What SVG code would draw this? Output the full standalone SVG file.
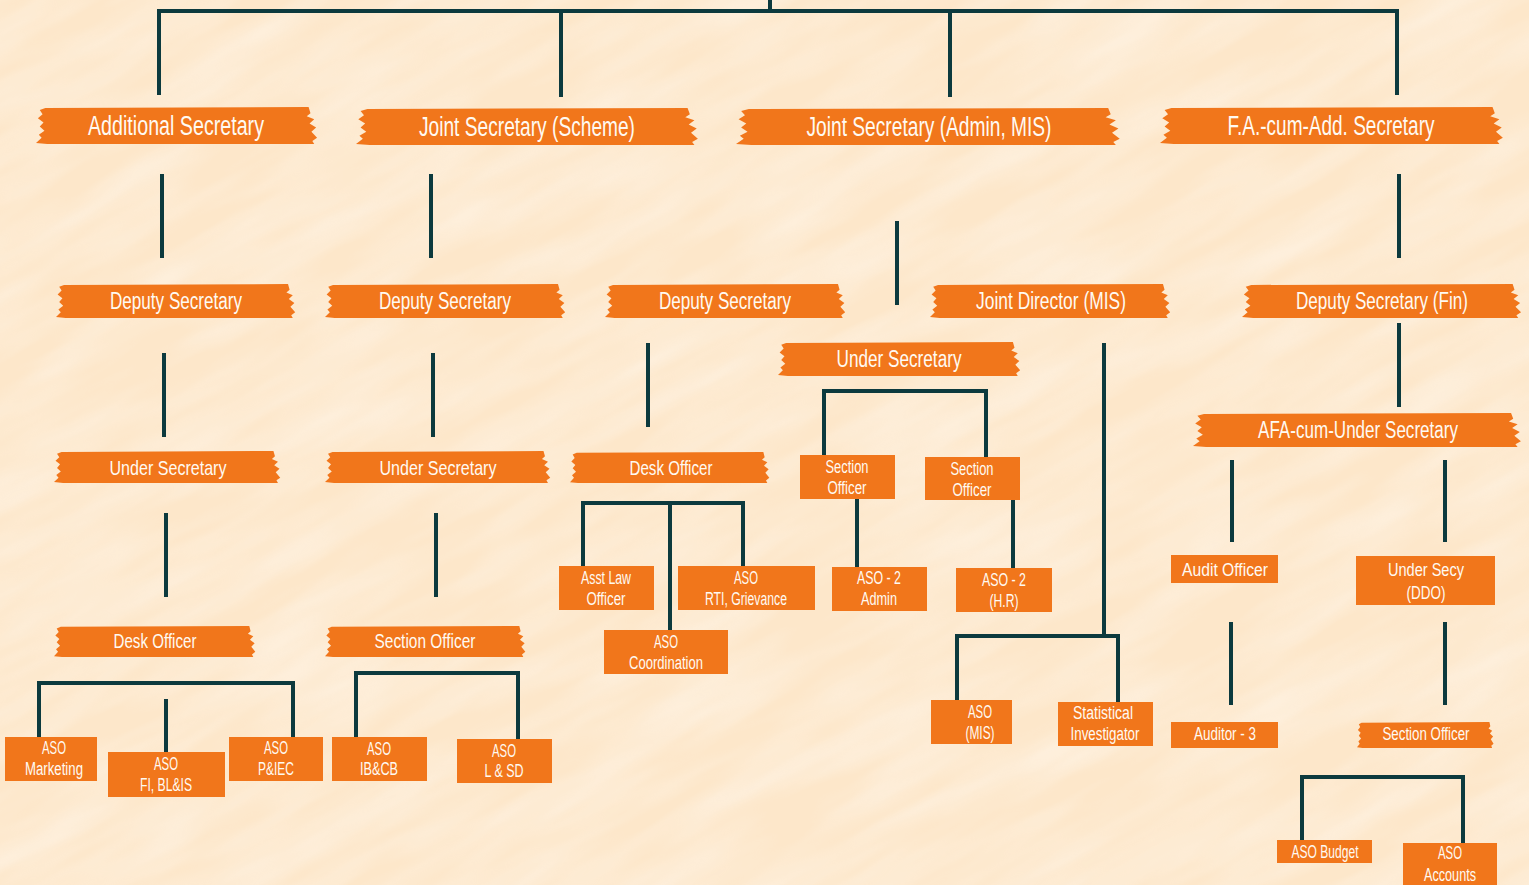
<svg xmlns="http://www.w3.org/2000/svg" xmlns:xlink="http://www.w3.org/1999/xlink" width="1529" height="885" viewBox="0 0 1529 885">
<style>
.ln{fill:none;stroke:#0c3a3e;stroke-width:4;stroke-linecap:butt;stroke-linejoin:miter}
.bx{fill:#f1761b}
text{font-family:"Liberation Sans","Noto Sans",Arial,sans-serif;fill:#fffaf2;text-anchor:middle}
.t1{font-size:27px}
.t2{font-size:23px}
.t3{font-size:21px}
.t4{font-size:18px}
</style>
<defs>
<symbol id="brush" viewBox="0 0 300 36" preserveAspectRatio="none">
<path d="M10,1 L290,0 L292,6 L288,9 L296,12 L291,16 L298,20 L293,24 L299,30 L294,33 L296,36 L12,36 L0,35 L6,30 L3,27 L9,23 L4,19 L8,15 L2,11 L7,7 L4,3 Z" fill="#f1761b"/>
</symbol>
<filter id="paper" x="0" y="0" width="100%" height="100%">
<feTurbulence type="fractalNoise" baseFrequency="0.006 0.03" numOctaves="3" seed="4" result="n"/>
<feColorMatrix in="n" type="matrix" values="0 0 0 0 1  0 0 0 0 1  0 0 0 0 1  0 0 0 1.2 -0.35"/>
</filter>
</defs>
<rect x="0" y="0" width="1529" height="885" fill="#fde7ca"/>
<g transform="rotate(-28 764 442)">
<rect x="-600" y="-700" width="2700" height="2300" filter="url(#paper)" opacity="0.5"/>
</g>

<g id="connectors">
<path class="ln" d="M770,0 V11 M159,95 V11 H1397 V95 M561,11 V97 M950,11 V97"/>
<path class="ln" d="M162,174 V258 M431,174 V258 M1399,174 V258 M897,221 V305"/>
<path class="ln" d="M164,353 V437 M433,353 V437 M648,343 V427 M1104,343 V636 M1399,323 V407"/>
<path class="ln" d="M166,513 V597 M436,513 V597"/>
<path class="ln" d="M824,455 V391 H986 V457"/>
<path class="ln" d="M583,566 V503 H743 V566 M670,503 V630"/>
<path class="ln" d="M857,499 V567 M1013,500 V569"/>
<path class="ln" d="M957,700 V636 H1118 V702"/>
<path class="ln" d="M1232,460 V542 M1445,460 V542 M1231,622 V705 M1445,622 V705"/>
<path class="ln" d="M1302,840 V777 H1463 V843"/>
<path class="ln" d="M39,737 V683 H293 V737 M166,699 V752"/>
<path class="ln" d="M356,737 V673 H518 V739"/>
</g>

<g id="n-additional-secretary"><use href="#brush" x="36" y="107" width="282" height="37"/><text class="t1" x="176" y="135" textLength="176" lengthAdjust="spacingAndGlyphs">Additional Secretary</text></g>
<g id="n-js-scheme"><use href="#brush" x="356" y="108" width="343" height="37"/><text class="t1" x="527" y="136" textLength="216" lengthAdjust="spacingAndGlyphs">Joint Secretary (Scheme)</text></g>
<g id="n-js-admin"><use href="#brush" x="736" y="108" width="385" height="37"/><text class="t1" x="929" y="136" textLength="245" lengthAdjust="spacingAndGlyphs">Joint Secretary (Admin, MIS)</text></g>
<g id="n-fa"><use href="#brush" x="1160" y="107" width="344" height="37"/><text class="t1" x="1331" y="135" textLength="207" lengthAdjust="spacingAndGlyphs">F.A.-cum-Add. Secretary</text></g>

<g id="n-ds1"><use href="#brush" x="56" y="284" width="240" height="34"/><text class="t2" x="176" y="309" textLength="132" lengthAdjust="spacingAndGlyphs">Deputy Secretary</text></g>
<g id="n-ds2"><use href="#brush" x="325" y="284" width="241" height="34"/><text class="t2" x="445" y="309" textLength="132" lengthAdjust="spacingAndGlyphs">Deputy Secretary</text></g>
<g id="n-ds3"><use href="#brush" x="605" y="284" width="241" height="34"/><text class="t2" x="725" y="309" textLength="132" lengthAdjust="spacingAndGlyphs">Deputy Secretary</text></g>
<g id="n-jd-mis"><use href="#brush" x="930" y="284" width="241" height="34"/><text class="t2" x="1051" y="309" textLength="150" lengthAdjust="spacingAndGlyphs">Joint Director (MIS)</text></g>
<g id="n-ds-fin"><use href="#brush" x="1242" y="284" width="280" height="34"/><text class="t2" x="1382" y="309" textLength="172" lengthAdjust="spacingAndGlyphs">Deputy Secretary (Fin)</text></g>

<g id="n-us-mid"><use href="#brush" x="778" y="342" width="243" height="34"/><text class="t2" x="899" y="367" textLength="125" lengthAdjust="spacingAndGlyphs">Under Secretary</text></g>
<g id="n-us1"><use href="#brush" x="54" y="451" width="227" height="32"/><text class="t3" x="168" y="475" textLength="117" lengthAdjust="spacingAndGlyphs">Under Secretary</text></g>
<g id="n-us2"><use href="#brush" x="325" y="451" width="226" height="32"/><text class="t3" x="438" y="475" textLength="117" lengthAdjust="spacingAndGlyphs">Under Secretary</text></g>
<g id="n-do-mid"><use href="#brush" x="570" y="452" width="200" height="31"/><text class="t3" x="671" y="475" textLength="83" lengthAdjust="spacingAndGlyphs">Desk Officer</text></g>
<g id="n-afa"><use href="#brush" x="1193" y="413" width="329" height="34"/><text class="t2" x="1358" y="438" textLength="200" lengthAdjust="spacingAndGlyphs">AFA-cum-Under Secretary</text></g>

<g id="n-do-left"><use href="#brush" x="54" y="626" width="202" height="31"/><text class="t3" x="155" y="648" textLength="83" lengthAdjust="spacingAndGlyphs">Desk Officer</text></g>
<g id="n-so-left"><use href="#brush" x="325" y="626" width="201" height="31"/><text class="t3" x="425" y="648" textLength="101" lengthAdjust="spacingAndGlyphs">Section Officer</text></g>

<g id="n-so-a"><rect class="bx" x="800" y="455" width="95" height="44"/><text class="t4" x="847" y="473" textLength="43" lengthAdjust="spacingAndGlyphs">Section</text><text class="t4" x="847" y="494" textLength="39" lengthAdjust="spacingAndGlyphs">Officer</text></g>
<g id="n-so-b"><rect class="bx" x="925" y="457" width="95" height="43"/><text class="t4" x="972" y="475" textLength="43" lengthAdjust="spacingAndGlyphs">Section</text><text class="t4" x="972" y="496" textLength="39" lengthAdjust="spacingAndGlyphs">Officer</text></g>

<g id="n-asst-law"><rect class="bx" x="559" y="566" width="95" height="44"/><text class="t4" x="606" y="584" textLength="50" lengthAdjust="spacingAndGlyphs">Asst Law</text><text class="t4" x="606" y="605" textLength="39" lengthAdjust="spacingAndGlyphs">Officer</text></g>
<g id="n-aso-rti"><rect class="bx" x="678" y="566" width="137" height="44"/><text class="t4" x="746" y="584" textLength="24" lengthAdjust="spacingAndGlyphs">ASO</text><text class="t4" x="746" y="605" textLength="82" lengthAdjust="spacingAndGlyphs">RTI, Grievance</text></g>
<g id="n-aso-coord"><rect class="bx" x="604" y="630" width="124" height="44"/><text class="t4" x="666" y="648" textLength="24" lengthAdjust="spacingAndGlyphs">ASO</text><text class="t4" x="666" y="669" textLength="74" lengthAdjust="spacingAndGlyphs">Coordination</text></g>
<g id="n-aso2-admin"><rect class="bx" x="832" y="567" width="95" height="44"/><text class="t4" x="879" y="584" textLength="44" lengthAdjust="spacingAndGlyphs">ASO - 2</text><text class="t4" x="879" y="605" textLength="36" lengthAdjust="spacingAndGlyphs">Admin</text></g>
<g id="n-aso2-hr"><rect class="bx" x="956" y="568" width="96" height="44"/><text class="t4" x="1004" y="586" textLength="44" lengthAdjust="spacingAndGlyphs">ASO - 2</text><text class="t4" x="1004" y="607" textLength="29" lengthAdjust="spacingAndGlyphs">(H.R)</text></g>

<g id="n-aso-mis"><rect class="bx" x="931" y="700" width="81" height="44"/><text class="t4" x="980" y="718" textLength="24" lengthAdjust="spacingAndGlyphs">ASO</text><text class="t4" x="980" y="739" textLength="29" lengthAdjust="spacingAndGlyphs">(MIS)</text></g>
<g id="n-stat"><rect class="bx" x="1058" y="702" width="95" height="44"/><text class="t4" x="1103" y="719" textLength="60" lengthAdjust="spacingAndGlyphs">Statistical</text><text class="t4" x="1105" y="740" textLength="69" lengthAdjust="spacingAndGlyphs">Investigator</text></g>

<g id="n-audit"><rect class="bx" x="1171" y="555" width="107" height="28"/><text class="t4" x="1225" y="576" textLength="86" lengthAdjust="spacingAndGlyphs">Audit Officer</text></g>
<g id="n-usecy-ddo"><rect class="bx" x="1356" y="556" width="139" height="49"/><text class="t4" x="1426" y="576" textLength="76" lengthAdjust="spacingAndGlyphs">Under Secy</text><text class="t4" x="1426" y="599" textLength="39" lengthAdjust="spacingAndGlyphs">(DDO)</text></g>
<g id="n-auditor"><rect class="bx" x="1171" y="722" width="107" height="26"/><text class="t4" x="1225" y="740" textLength="62" lengthAdjust="spacingAndGlyphs">Auditor - 3</text></g>
<g id="n-so-right"><use href="#brush" x="1357" y="722" width="137" height="26"/><text class="t4" x="1426" y="740" textLength="87" lengthAdjust="spacingAndGlyphs">Section Officer</text></g>
<g id="n-aso-budget"><rect class="bx" x="1277" y="840" width="95" height="23"/><text class="t4" x="1325" y="858" textLength="67" lengthAdjust="spacingAndGlyphs">ASO Budget</text></g>
<g id="n-aso-accounts"><rect class="bx" x="1403" y="843" width="94" height="42"/><text class="t4" x="1450" y="859" textLength="24" lengthAdjust="spacingAndGlyphs">ASO</text><text class="t4" x="1450" y="881" textLength="52" lengthAdjust="spacingAndGlyphs">Accounts</text></g>

<g id="n-aso-marketing"><rect class="bx" x="5" y="737" width="92" height="44"/><text class="t4" x="54" y="754" textLength="24" lengthAdjust="spacingAndGlyphs">ASO</text><text class="t4" x="54" y="775" textLength="58" lengthAdjust="spacingAndGlyphs">Marketing</text></g>
<g id="n-aso-fi"><rect class="bx" x="108" y="752" width="117" height="45"/><text class="t4" x="166" y="770" textLength="24" lengthAdjust="spacingAndGlyphs">ASO</text><text class="t4" x="166" y="791" textLength="52" lengthAdjust="spacingAndGlyphs">FI, BL&amp;IS</text></g>
<g id="n-aso-piec"><rect class="bx" x="229" y="737" width="94" height="44"/><text class="t4" x="276" y="754" textLength="24" lengthAdjust="spacingAndGlyphs">ASO</text><text class="t4" x="276" y="775" textLength="36" lengthAdjust="spacingAndGlyphs">P&amp;IEC</text></g>
<g id="n-aso-ibcb"><rect class="bx" x="332" y="737" width="95" height="44"/><text class="t4" x="379" y="755" textLength="24" lengthAdjust="spacingAndGlyphs">ASO</text><text class="t4" x="379" y="775" textLength="38" lengthAdjust="spacingAndGlyphs">IB&amp;CB</text></g>
<g id="n-aso-lsd"><rect class="bx" x="457" y="739" width="95" height="44"/><text class="t4" x="504" y="757" textLength="24" lengthAdjust="spacingAndGlyphs">ASO</text><text class="t4" x="504" y="777" textLength="39" lengthAdjust="spacingAndGlyphs">L &amp; SD</text></g>
</svg>
